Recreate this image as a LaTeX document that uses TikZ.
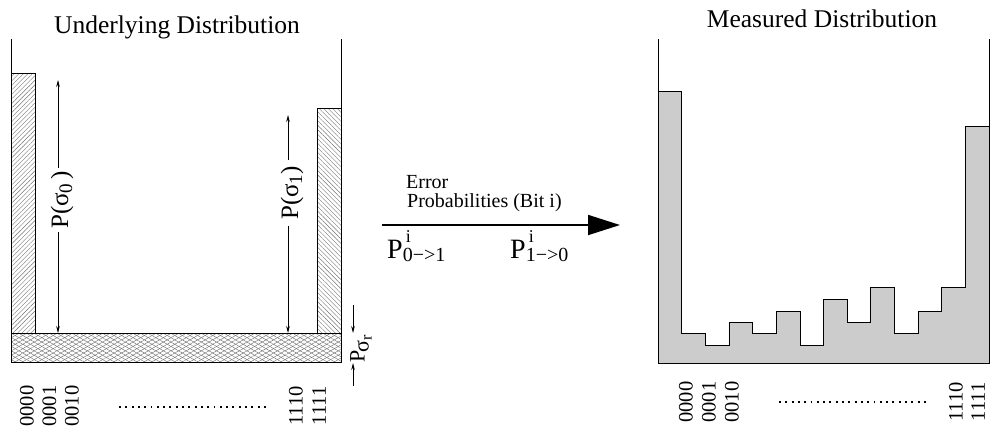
\documentclass[tikz,border=0pt]{standalone}
\usepackage{fontspec}
\setmainfont{Liberation Serif}
\usetikzlibrary{arrows.meta,patterns.meta}
\newcommand\fsz[1]{\fontsize{#1}{#1}\selectfont}
\begin{document}
\begin{tikzpicture}[x=1pt,y=-1pt,
  axisline/.style={line width=0.8pt},
  outline/.style={line width=0.8pt},
  hatchNE/.style={pattern={Lines[angle=45,distance=3.2pt,line width=0.4pt]},pattern color=black!55},
  hatchNW/.style={pattern={Lines[angle=-45,distance=3.2pt,line width=0.4pt]},pattern color=black!55},
  crossA/.style={pattern={Lines[angle=30,distance=3.8pt,line width=0.45pt]},pattern color=black!55},
  crossB/.style={pattern={Lines[angle=-30,distance=3.8pt,line width=0.45pt]},pattern color=black!55},
  dimarrow/.style={line width=0.6pt,-{Stealth[length=7pt,width=3.5pt]}},
  title/.style={font=\fsz{25.5},anchor=base,inner sep=0pt},
  ticklabel/.style={font=\fsz{20.5},rotate=90,inner sep=0pt,anchor=center},
  dotline/.style={line width=1.9pt,dash pattern=on 1.9pt off 4.4pt},
  vlabel/.style={font=\fsz{25},rotate=90,inner sep=3pt},
  errtext/.style={font=\fsz{20},anchor=base west,inner sep=0pt},
  plabel/.style={font=\fsz{28},anchor=base west,inner sep=0pt},
  bigarrow/.style={line width=1.8pt,-{Triangle[length=32pt,width=20pt]}},
  histfill/.style={fill=black!20,draw=black,line width=0.8pt}
]
\useasboundingbox (0,0) rectangle (990,432);

% ---------- titles
\node[title] (tU) at (177,33) {Underlying Distribution};
\node[title] (tM) at (822,27) {Measured Distribution};

% ---------- left panel
\fill[crossA] (11,333) rectangle (341,362);
\fill[crossB] (11,333) rectangle (341,362);
\draw[outline] (11,333) rectangle (341,362);
\fill[hatchNE] (11,73) rectangle (35,333);
\draw[outline] (11,73) rectangle (35,333);
\fill[hatchNW] (317,108) rectangle (341,333);
\draw[outline] (317,108) rectangle (341,333);
\draw[axisline] (11,39) -- (11,362);
\draw[axisline] (341,39) -- (341,362);

% P(sigma_0)
\coordinate (p0top) at (58,80);
\coordinate (p0bot) at (58,333);
\node[vlabel] (p0lab) at (62,200) {P(σ\raisebox{-4pt}{\fsz{19}0}\,)};
\draw[dimarrow] (p0top |- p0lab.east) -- (p0top);
\draw[dimarrow] (p0bot |- p0lab.west) -- (p0bot);

% P(sigma_1)
\coordinate (p1top) at (288,115);
\coordinate (p1bot) at (288,333);
\node[vlabel,inner sep=6pt] (p1lab) at (292,193) {P(σ\raisebox{-4pt}{\fsz{19}1})};
\draw[dimarrow] (p1top |- p1lab.east) -- (p1top);
\draw[dimarrow] (p1bot |- p1lab.west) -- (p1bot);

% P sigma_r
\coordinate (rA) at (353,305);
\coordinate (rAtip) at (353,333);
\coordinate (rB) at (353,386);
\coordinate (rBtip) at (353,363);
\draw[dimarrow] (rA) -- (rAtip);
\draw[dimarrow] (rB) -- (rBtip);
\node[font=\fsz{22},rotate=90,inner sep=0pt] (prlab) at (361,349) {P\kern-2pt\raisebox{-4pt}{\fsz{22}σ\raisebox{-3pt}{\fsz{16}r}}};

% tick labels left
\node[ticklabel] (l0) at (27,406) {0000};
\node[ticklabel] (l1) at (49.5,406) {0001};
\node[ticklabel] (l2) at (72,406) {0010};
\node[ticklabel] (l14) at (296,406) {1110};
\node[ticklabel] (l15) at (319,406) {1111};
\coordinate (ldA) at (119,407);
\coordinate (ldB) at (268,407);
\draw[dotline] (ldA) -- (ldB);

% ---------- arrow in the middle
\coordinate (arA) at (382,225);
\coordinate (arB) at (620,225);
\draw[bigarrow] (arA) -- (arB);
\node[errtext] (err1) at (406,188) {Error};
\node[errtext] (err2) at (407,207.5) {Probabilities (Bit i)};
\node[plabel] (pa) at (387,258) {P\rlap{\raisebox{16pt}{\fsz{18}\,i}}\raisebox{-3pt}{\fsz{20}0−>1}};
\node[plabel] (pb) at (510,258) {P\rlap{\raisebox{16pt}{\fsz{18}\,i}}\raisebox{-3pt}{\fsz{20}1−>0}};

% ---------- right panel
\draw[histfill] (658,363) -- (658,91) -- (681.6,91) -- (681.6,333) -- (705.3,333) -- (705.3,345)
  -- (728.9,345) -- (728.9,322) -- (752.6,322) -- (752.6,333) -- (776.2,333) -- (776.2,311)
  -- (799.9,311) -- (799.9,345) -- (823.5,345) -- (823.5,299) -- (847.1,299) -- (847.1,322)
  -- (870.8,322) -- (870.8,287) -- (894.4,287) -- (894.4,333) -- (918.1,333) -- (918.1,311)
  -- (941.7,311) -- (941.7,287) -- (965.4,287) -- (965.4,126) -- (989,126) -- (989,363) -- cycle;
\draw[axisline] (658,39) -- (658,363);
\draw[axisline] (989,39) -- (989,363);

\node[ticklabel] (r0) at (686,402) {0000};
\node[ticklabel] (r1) at (709,402) {0001};
\node[ticklabel] (r2) at (732,402) {0010};
\node[ticklabel] (r14) at (956,402) {1110};
\node[ticklabel] (r15) at (978,402) {1111};
\coordinate (rdA) at (779,402);
\coordinate (rdB) at (927,402);
\draw[dotline] (rdA) -- (rdB);
\end{tikzpicture}
\end{document}
